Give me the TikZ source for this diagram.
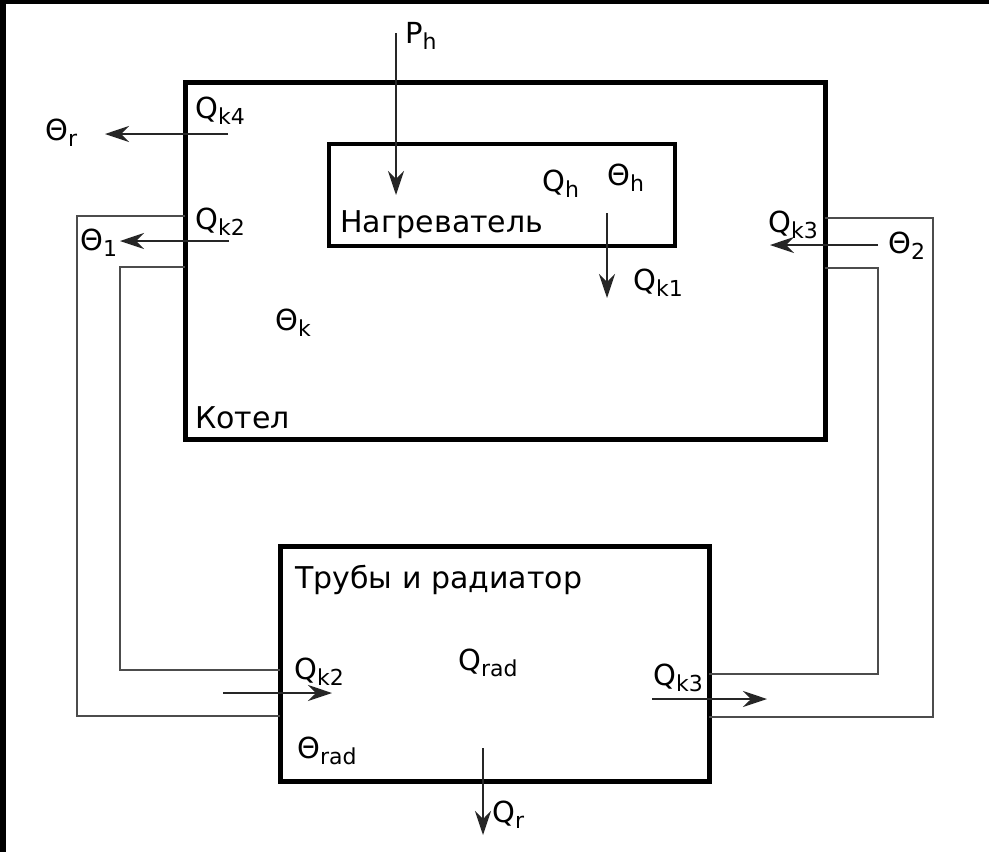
\documentclass[tikz,border=0pt]{standalone}
\usepackage{fontspec}
\setmainfont{DejaVu Sans}
\usetikzlibrary{arrows.meta}

\newcommand{\lo}[1]{\raisebox{-6pt}{\fontsize{22}{24}\selectfont #1}}

\tikzset{
    block/.style={draw, line width=#1, inner sep=0pt},
    pipe/.style={draw=black!70, line width=1.6pt},
    flow/.style={draw=black!85, line width=1.7pt, -{Stealth[length=24pt,width=16pt,inset=8pt]}},
    lbl/.style={anchor=base west, inner sep=0pt, font=\fontsize{29}{33}\selectfont},
    title/.style={anchor=base west, inner sep=0pt, font=\fontsize{30}{34}\selectfont}
}

\begin{document}
\begin{tikzpicture}[x=1pt,y=-1pt]
    \useasboundingbox (0,0) rectangle (989,852);
    \fill[black] (0,0) rectangle (989,852);
    \fill[white] (6,4) rectangle (989,852);

    % the three boxes
    \node[block=5pt, minimum width=640pt, minimum height=357pt] (kotel) at (505,260.5) {};
    \node[block=4pt, minimum width=346pt, minimum height=102pt] (heater) at (502,195) {};
    \node[block=5pt, minimum width=429pt, minimum height=235pt] (rad) at (494.5,663.5) {};

    % pipes
    \draw[pipe] (185,216) -- (77,216) -- (77,716) -- (280,716);
    \draw[pipe] (185,267) -- (120,267) -- (120,670) -- (280,670);
    \draw[pipe] (825,218) -- (933,218) -- (933,717) -- (709,717);
    \draw[pipe] (825,268) -- (878,268) -- (878,674) -- (709,674);

    % arrow ends
    \coordinate (ph0) at (396,33);    \coordinate (ph1) at (396,195);
    \coordinate (r0) at (228,134);    \coordinate (r1) at (105,134);
    \coordinate (o10) at (229,241);   \coordinate (o11) at (120,241);
    \coordinate (o20) at (878,245);   \coordinate (o21) at (770,245);
    \coordinate (k10) at (607,213);   \coordinate (k11) at (607,298);
    \coordinate (k20) at (223,693);   \coordinate (k21) at (332,693);
    \coordinate (k30) at (652,699);   \coordinate (k31) at (767,699);
    \coordinate (qr0) at (483,748);   \coordinate (qr1) at (483,835);

    \draw[flow] (ph0) -- (ph1);
    \draw[flow] (r0) -- (r1);
    \draw[flow] (o10) -- (o11);
    \draw[flow] (o20) -- (o21);
    \draw[flow] (k10) -- (k11);
    \draw[flow] (k20) -- (k21);
    \draw[flow] (k30) -- (k31);
    \draw[flow] (qr0) -- (qr1);

    % labels
    \node[lbl] (lph) at (405,43) {P\lo{h}};
    \node[lbl] (lqk4) at (195,118) {Q\lo{k4}};
    \node[lbl] (lthr) at (45,140) {Θ\lo{r}};
    \node[lbl] (lqk2) at (195,229) {Q\lo{k2}};
    \node[lbl] (lth1) at (80,250) {Θ\lo{1}};
    \node[lbl] (lqk3) at (768,232) {Q\lo{k3}};
    \node[lbl] (lth2) at (888,253) {Θ\lo{2}};
    \node[lbl] (lqh) at (542,191) {Q\lo{h}};
    \node[lbl] (lthh) at (607,185) {Θ\lo{h}};
    \node[lbl] (lqk1) at (633,290) {Q\lo{k1}};
    \node[lbl] (lthk) at (275,330) {Θ\lo{k}};
    \node[lbl] (lqk2r) at (294,679) {Q\lo{k2}};
    \node[lbl] (lqrad) at (458,670) {Q\lo{rad}};
    \node[lbl] (lqk3r) at (653,685) {Q\lo{k3}};
    \node[lbl] (lthrad) at (297,758) {Θ\lo{rad}};
    \node[lbl] (lqr) at (492,822) {Q\lo{r}};

    \node[title] (theat) at (340,232) {Нагреватель};
    \node[title] (tkot) at (195,428) {Котел};
    \node[title] (trad) at (295,588) {Трубы и радиатор};
\end{tikzpicture}
\end{document}
